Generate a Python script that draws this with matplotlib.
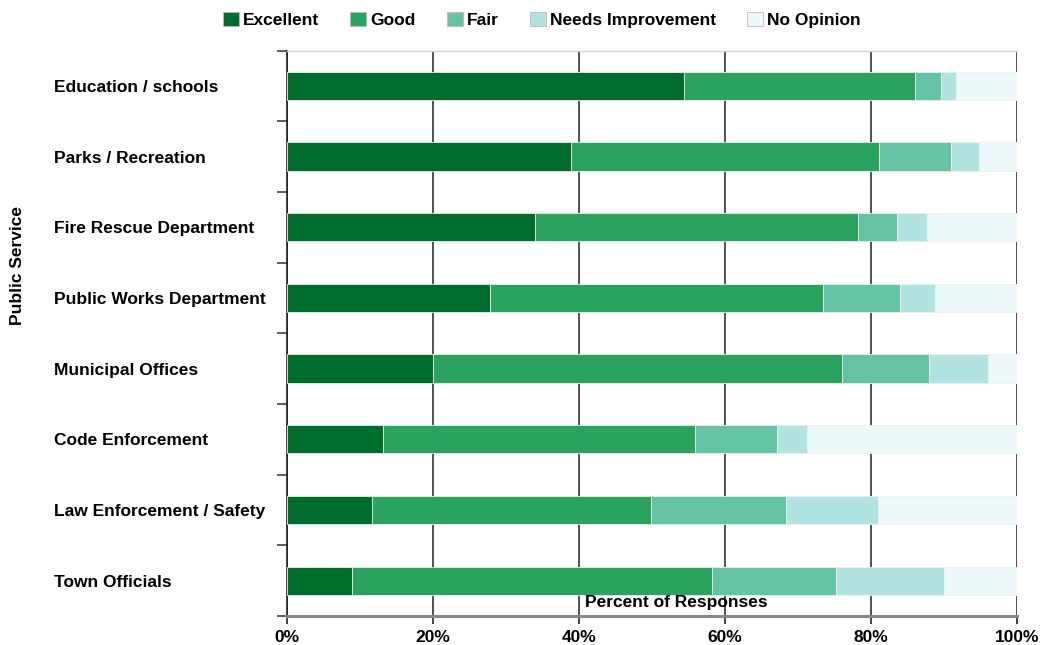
import numpy as np
import matplotlib.pyplot as plt
from matplotlib.ticker import FixedLocator, PercentFormatter

# survey results, percent of responses per service
services = ['Education / schools', 'Parks / Recreation', 'Fire Rescue Department',
            'Public Works Department', 'Municipal Offices', 'Code Enforcement',
            'Law Enforcement / Safety', 'Town Officials']
excellent = [54.4, 38.9, 34.0, 27.8, 20.0, 13.1, 11.6, 8.9]
good = [31.6, 42.2, 44.2, 45.6, 56.0, 42.8, 38.2, 49.3]
fair = [3.6, 9.8, 5.4, 10.6, 11.9, 11.2, 18.6, 17.0]
needs_improvement = [2.0, 3.9, 4.1, 4.7, 8.1, 4.2, 12.6, 14.8]
no_opinion = [8.4, 5.2, 12.3, 11.3, 4.0, 28.7, 19.0, 10.0]

labels = ['Excellent', 'Good', 'Fair', 'Needs Improvement', 'No Opinion']
colors = ['#006d2c', '#2ca25f', '#66c2a4', '#b2e2e2', '#edf8fb']

plt.rcParams['font.family'] = ['Liberation Sans', 'DejaVu Sans']
plt.rcParams['font.weight'] = 'bold'
FS = 12.5

fig = plt.figure(figsize=(10.41, 6.45), dpi=100)
ax = fig.add_axes([287/1041, 1 - 616/645, 730/1041, 565.5/645])

y = np.arange(len(services))
left = np.zeros(len(services))
for vals, lab, col in zip([excellent, good, fair, needs_improvement, no_opinion], labels, colors):
    ax.barh(y, vals, left=left, height=0.4, color=col, edgecolor='#e8f2ec',
            linewidth=0.6, label=lab, zorder=3)
    left += np.array(vals)

ax.set_xlim(0, 100)
ax.set_ylim(len(services) - 0.5, -0.5)

# grid
ax.set_xticks([0, 20, 40, 60, 80, 100])
ax.xaxis.set_major_formatter(PercentFormatter(decimals=0))
ax.grid(axis='x', color='#333333', linewidth=1.2, zorder=0)
ax.tick_params(axis='x', length=6, width=1.2, color='#222222', pad=4, labelsize=FS)

# category labels left aligned
ax.set_yticks(y)
ax.set_yticklabels(services, ha='left', fontsize=FS)
ax.tick_params(axis='y', which='major', length=0, pad=168)
ax.yaxis.set_minor_locator(FixedLocator(np.arange(-0.5, len(services), 1)))
ax.tick_params(axis='y', which='minor', length=7, color='#444444', width=1.2)

ax.spines['right'].set_visible(False)
ax.spines['top'].set_color('#d4d4d4')
ax.spines['top'].set_linewidth(1.0)
ax.spines['left'].set_color('#222222')
ax.spines['left'].set_linewidth(1.2)
ax.spines['bottom'].set_color('#888888')
ax.spines['bottom'].set_linewidth(2.2)

fig.text(676/1041, 1 - 602/645, 'Percent of Responses', ha='center', va='center',
         fontsize=FS, fontweight='bold')
fig.text(18/1041, 1 - 265/645, 'Public Service', rotation=90, ha='center',
         va='center', fontsize=FS, fontweight='bold')

leg = fig.legend(loc='center', bbox_to_anchor=(542/1041, 1 - 20/645), ncol=5,
                 frameon=False, fontsize=FS, handlelength=0.9, handleheight=0.9,
                 handletextpad=0.25, columnspacing=1.8)
for h in leg.legend_handles:
    h.set_edgecolor('#bbbbbb')
    h.set_linewidth(0.6)

fig.savefig('out.png', dpi=100)
